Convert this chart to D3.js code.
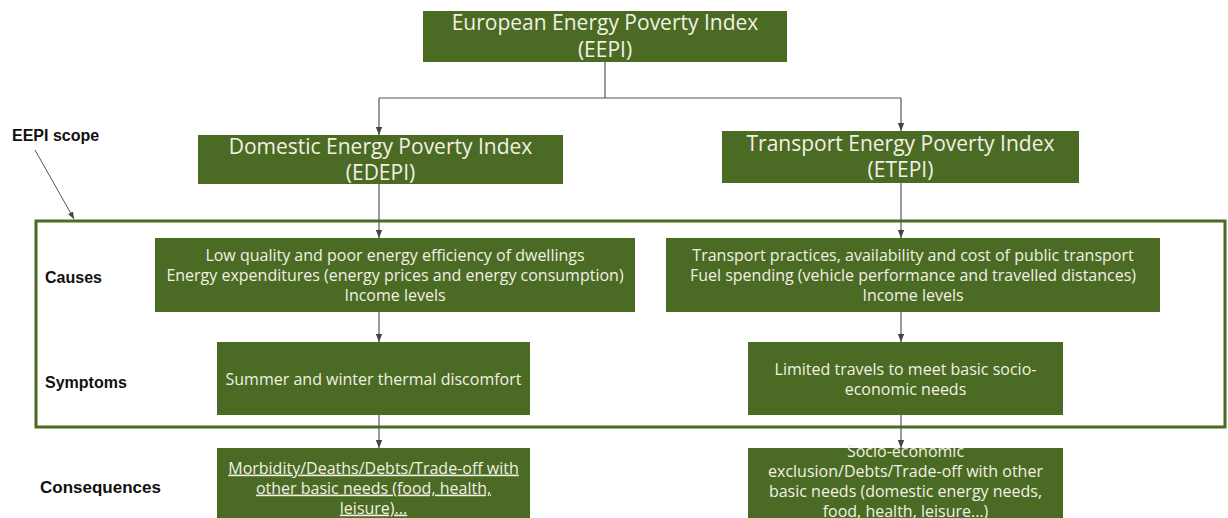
<!DOCTYPE html>
<html>
<head>
<meta charset="utf-8">
<script src="https://cdn.jsdelivr.net/npm/d3@7"></script>
<style>
  html, body { margin: 0; padding: 0; background: #fff; }
  svg { display: block; }
</style>
</head>
<body>
<div id="eepi"></div>
<script>
// diagram content
const topTitle = ["European Energy Poverty Index", "(EEPI)"];
const columns = ["domestic", "transport"];
const indexTitles = [
  ["Domestic Energy Poverty Index", "(EDEPI)"],
  ["Transport Energy Poverty Index", "(ETEPI)"]
];
const rowLabels = ["Causes", "Symptoms", "Consequences"];
const causesText = [
  ["Low quality and poor energy efficiency of dwellings",
   "Energy expenditures (energy prices and energy consumption)",
   "Income levels"],
  ["Transport practices, availability and cost of public transport",
   "Fuel spending (vehicle performance and travelled distances)",
   "Income levels"]
];
const symptomsText = [
  ["Summer and winter thermal discomfort"],
  ["Limited travels to meet basic socio-", "economic needs"]
];
const consequencesText = [
  ["Morbidity/Deaths/Debts/Trade-off with", "other basic needs (food, health,", "leisure)..."],
  ["Socio-economic", "exclusion/Debts/Trade-off with other", "basic needs (domestic energy needs,", "food, health, leisure...)"]
];
const scopeLabel = "EEPI scope";

const W = 1228, H = 518;
const green = "#4b6a23";
const cream = "#f1f1e4";
const lineCol = "#555";
const boxFont = "'Open Sans', sans-serif";

const svg = d3.select("#eepi").append("svg")
  .attr("width", W).attr("height", H);

svg.append("defs").append("marker")
  .attr("id", "arr")
  .attr("viewBox", "0 0 10 10")
  .attr("refX", 10).attr("refY", 5)
  .attr("markerWidth", 7).attr("markerHeight", 7)
  .attr("orient", "auto")
  .append("path").attr("d", "M0,1L10,5L0,9Z").attr("fill", "#444");

// column centres and row bands
const x = d3.scalePoint().domain(columns).range([379, 901]);
const rowTop = d3.scaleOrdinal().domain(["top", "index", ...rowLabels]).range([11, 133, 238, 342, 448]);
const rowH = d3.scaleOrdinal().domain(["top", "index", ...rowLabels]).range([51, 50, 74, 73, 90]);
// box extents relative to column centre [left, right]
const boxExt = {
  index: [[-181, 184], [-179, 178]],
  Causes: [[-224, 256], [-235, 259]],
  Symptoms: [[-162, 151], [-153, 162]],
  Consequences: [[-162, 151], [-153, 162]]
};

function box(x0, x1, y0, h) {
  svg.append("rect")
    .attr("x", x0).attr("y", y0).attr("width", x1 - x0).attr("height", h)
    .attr("fill", green);
}

function lines(cx, cy, arr, size, lh, opts = {}) {
  const t = svg.append("text")
    .attr("text-anchor", "middle")
    .attr("font-family", boxFont)
    .attr("font-size", size)
    .attr("fill", cream)
    .style("text-decoration", opts.underline ? "underline" : null);
  const y0 = cy - (arr.length - 1) * lh / 2;
  arr.forEach((s, i) => {
    t.append("tspan").attr("x", cx).attr("y", y0 + i * lh).attr("dy", "0.35em").text(s);
  });
}

function arrow(x0, y0, x1, y1) {
  svg.append("line")
    .attr("x1", x0).attr("y1", y0).attr("x2", x1).attr("y2", y1)
    .attr("stroke", lineCol).attr("stroke-width", 1.2)
    .attr("marker-end", "url(#arr)");
}

// scope frame
svg.append("rect")
  .attr("x", 36).attr("y", 221).attr("width", 1189).attr("height", 206)
  .attr("fill", "none").attr("stroke", green).attr("stroke-width", 3);

// top box
const topMid = (x(columns[0]) + x(columns[1])) / 2 - 35;
box(topMid - 182, topMid + 182, rowTop("top"), rowH("top"));
lines(topMid, rowTop("top") + 25, topTitle, 21, 27);

// tree connector
const busY = 98;
svg.append("path")
  .attr("d", `M${topMid},${rowTop("top") + rowH("top")}V${busY}H${x(columns[0])}M${topMid},${busY}H${x(columns[1])}`)
  .attr("fill", "none").attr("stroke", lineCol).attr("stroke-width", 1.2);

const indexTops = [135, 131];
const indexHs = [49, 52];

columns.forEach((c, i) => {
  const cx = x(c);
  const e = boxExt.index[i];
  arrow(cx, busY, cx, indexTops[i]);
  box(cx + e[0], cx + e[1], indexTops[i], indexHs[i]);
  lines(cx + (e[0] + e[1]) / 2, indexTops[i] + indexHs[i] / 2, indexTitles[i], 21, 26);

  arrow(cx, indexTops[i] + indexHs[i], cx, rowTop("Causes"));

  const rows = [["Causes", causesText], ["Symptoms", symptomsText], ["Consequences", consequencesText]];
  rows.forEach(([lvl, txt], k) => {
    const ex = boxExt[lvl][i];
    const y0 = rowTop(lvl);
    box(cx + ex[0], cx + ex[1], y0, rowH(lvl));
    let cy = y0 + rowH(lvl) / 2;
    if (lvl === "Consequences") cy = i === 0 ? 488 : 481;
    if (lvl === "Symptoms") cy = 379;
    lines(cx + (ex[0] + ex[1]) / 2, cy, txt[i], 16, 20,
      { underline: lvl === "Consequences" && i === 0 });
    if (k < rows.length - 1) {
      arrow(cx, y0 + rowH(lvl), cx, rowTop(rows[k + 1][0]));
    }
  });
});

// row labels
const labelY = d3.scaleOrdinal().domain(rowLabels).range([277, 382, 487]);
const labelX = d3.scaleOrdinal().domain(rowLabels).range([45, 45, 40]);
svg.selectAll(".row-label")
  .data(rowLabels)
  .join("text")
  .attr("class", "row-label")
  .attr("x", d => labelX(d))
  .attr("y", d => labelY(d))
  .attr("dy", "0.35em")
  .attr("font-family", "'Liberation Sans', Arial, sans-serif")
  .attr("font-weight", "bold")
  .attr("font-size", d => d === "Consequences" ? 17 : 16)
  .attr("fill", "#111")
  .text(d => d);

// scope label + pointer
svg.append("text")
  .attr("x", 12).attr("y", 135).attr("dy", "0.35em")
  .attr("font-family", "'Liberation Sans', Arial, sans-serif")
  .attr("font-weight", "bold").attr("font-size", 16).attr("fill", "#111")
  .text(scopeLabel);
svg.append("line")
  .attr("x1", 35).attr("y1", 150).attr("x2", 74).attr("y2", 219)
  .attr("stroke", "#555").attr("stroke-width", 1)
  .attr("marker-end", "url(#arr)");
</script>
</body>
</html>
